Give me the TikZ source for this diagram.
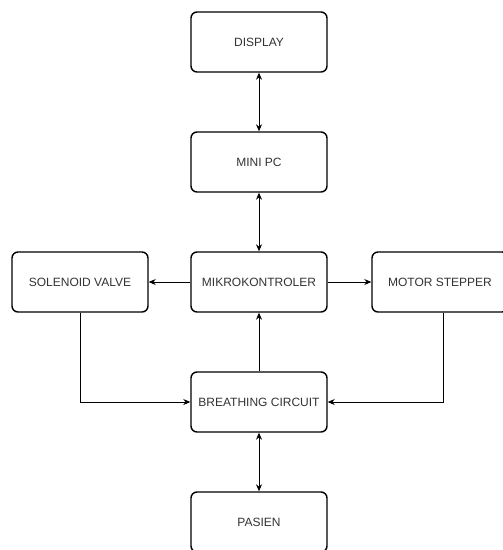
\documentclass[tikz,border=0pt]{standalone}
\usepackage{fontspec}
\setmainfont{Liberation Sans}
\usepackage{tikz}
\usetikzlibrary{arrows.meta, positioning}

\begin{document}
\begin{tikzpicture}[x=1pt, y=-1pt, font=\fontsize{12}{14}\selectfont,
        blok/.style={draw, line width=1.4pt, rounded corners=6pt,
            minimum width=136pt, minimum height=60pt, text=black!80},
        panah/.style={-{Stealth[length=7pt, width=6pt]}, line width=0.9pt},
        duapanah/.style={{Stealth[length=7pt, width=6pt]}-{Stealth[length=7pt, width=6pt]}, line width=0.9pt}
    ]
    \useasboundingbox (0,0) rectangle (503,550);
    \fill[white] (0,0) rectangle (503,550);

    \node[blok] (display) at (259,42) {DISPLAY};
    \node[blok] (minipc) at (259,162) {MINI PC};
    \node[blok] (mikro) at (259,282) {MIKROKONTROLER};
    \node[blok] (solenoid) at (80,282) {SOLENOID VALVE};
    \node[blok] (motor) at (440,282) {MOTOR STEPPER};
    \node[blok] (breathing) at (259,402) {BREATHING CIRCUIT};
    \node[blok] (pasien) at (259,522) {PASIEN};

    \draw[duapanah] (display) -- (minipc);
    \draw[duapanah] (minipc) -- (mikro);
    \draw[panah] (mikro) -- (solenoid);
    \draw[panah] (mikro) -- (motor);
    \draw[panah] (breathing) -- (mikro);
    \draw[panah] (solenoid.south) |- (breathing.west);
    \draw[panah] ([xshift=3pt]motor.south) |- (breathing.east);
    \draw[duapanah] (breathing) -- (pasien);
\end{tikzpicture}
\end{document}
